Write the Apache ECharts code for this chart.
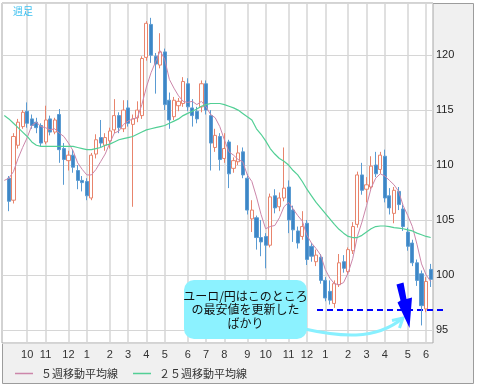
<!DOCTYPE html>
<html><head><meta charset="utf-8">
<script src="https://cdn.jsdelivr.net/npm/echarts@6/dist/echarts.min.js"></script>
<style>html,body{margin:0;padding:0;background:#fff}#c{width:477px;height:388px}</style>
</head><body><div id="c"></div>
<script>
const weeks = ['2010-08-30','2010-09-06','2010-09-13','2010-09-20','2010-09-27',
'2010-10-04','2010-10-11','2010-10-18','2010-10-25',
'2010-11-01','2010-11-08','2010-11-15','2010-11-22','2010-11-29',
'2010-12-06','2010-12-13','2010-12-20','2010-12-27',
'2011-01-03','2011-01-10','2011-01-17','2011-01-24','2011-01-31',
'2011-02-07','2011-02-14','2011-02-21','2011-02-28',
'2011-03-07','2011-03-14','2011-03-21','2011-03-28',
'2011-04-04','2011-04-11','2011-04-18','2011-04-25',
'2011-05-02','2011-05-09','2011-05-16','2011-05-23','2011-05-30',
'2011-06-06','2011-06-13','2011-06-20','2011-06-27',
'2011-07-04','2011-07-11','2011-07-18','2011-07-25',
'2011-08-01','2011-08-08','2011-08-15','2011-08-22','2011-08-29',
'2011-09-05','2011-09-12','2011-09-19','2011-09-26',
'2011-10-03','2011-10-10','2011-10-17','2011-10-24','2011-10-31',
'2011-11-07','2011-11-14','2011-11-21','2011-11-28',
'2011-12-05','2011-12-12','2011-12-19','2011-12-26',
'2012-01-02','2012-01-09','2012-01-16','2012-01-23','2012-01-30',
'2012-02-06','2012-02-13','2012-02-20','2012-02-27',
'2012-03-05','2012-03-12','2012-03-19','2012-03-26',
'2012-04-02','2012-04-09','2012-04-16','2012-04-23','2012-04-30',
'2012-05-07','2012-05-14','2012-05-21','2012-05-28',
'2012-06-04','2012-06-11'];

const openP = [null,
108.8,106.8,111.8,113.5,
114.9,114.2,113.9,113.6,
112.1,114.2,113.0,114.6,111.5,
110.4,110.9,109.5,108.6,
108.5,107.0,111.0,112.5,111.8,
112.2,113.2,114.5,113.3,
115.2,113.7,114.3,114.5,
119.8,122.8,119.9,119.1,
120.3,115.9,114.4,115.4,115.6,
117.4,115.2,114.9,115.3,
117.4,114.5,111.6,112.6,
110.6,112.1,109.7,110.3,111.2,
108.8,105.1,105.2,103.4,
103.5,102.7,107.2,106.2,107.0,
108.0,105.9,104.0,103.5,
104.7,102.6,101.2,101.6,
99.5,98.5,97.4,99.1,101.2,
100.3,102.2,104.6,109.1,
107.8,108.0,110.0,109.6,
110.8,107.2,105.6,107.6,106.0,
103.9,102.9,101.1,100.1,
96.9,100.5];

const closeP = [null,
106.7,112.6,113.9,114.8,
113.8,113.6,113.4,112.0,
114.1,113.0,114.1,111.4,110.5,
110.9,109.8,108.6,108.4,
107.2,110.9,112.3,112.0,112.5,
113.1,114.5,113.4,115.0,
113.8,114.2,115.0,119.7,
122.9,120.0,119.2,120.3,
115.5,114.1,115.9,115.8,117.6,
115.3,114.5,114.2,117.4,
115.0,112.0,112.7,110.5,
111.5,109.2,110.4,111.1,109.1,
105.9,105.9,103.4,103.0,
102.7,107.1,106.1,107.0,107.9,
105.0,104.1,102.9,104.4,
101.4,101.7,101.8,99.5,
97.9,97.7,99.2,101.1,100.6,
102.3,104.4,109.1,107.7,
108.2,109.9,109.2,110.9,
107.0,106.1,107.7,106.4,104.4,
102.6,101.1,99.5,97.2,
99.4,99.6];

const lowP = [null,
105.8,106.5,111.5,113.3,
113.4,113.3,112.9,111.7,
111.9,112.7,112.8,110.2,108.2,
109.5,109.3,107.8,107.6,
106.8,106.8,110.6,111.6,111.3,
111.5,112.9,112.9,113.0,
113.5,106.2,113.9,114.2,
119.5,119.3,116.5,118.8,
115.0,113.3,114.1,114.9,115.3,
114.9,113.5,113.8,114.8,
114.6,109.5,111.2,109.5,
110.2,107.9,109.3,110.0,108.8,
105.5,103.9,102.3,101.7,
100.6,102.5,105.6,105.8,106.7,
103.8,103.0,102.4,103.2,
100.9,101.2,100.8,99.2,
97.6,97.3,97.0,98.9,100.2,
100.0,101.9,104.3,107.3,
106.6,107.8,108.9,109.2,
106.6,105.5,104.7,105.9,104.0,
102.2,100.8,99.0,95.4,
96.6,98.9];

const highP = [null,
109.0,112.9,114.2,115.0,
115.7,114.6,114.3,113.8,
115.4,114.5,114.3,115.1,112.0,
111.3,111.4,110.0,109.0,
108.8,111.1,112.8,114.1,112.9,
113.4,116.0,114.8,115.9,
115.9,114.6,115.8,119.9,
123.1,123.4,120.2,122.0,
120.6,116.6,116.2,116.1,118.0,
117.9,116.0,115.3,117.7,
117.7,115.0,113.3,112.9,
112.9,112.3,110.7,111.8,111.6,
109.2,106.8,105.4,105.0,
103.8,107.4,107.8,107.5,111.6,
108.6,106.3,104.4,105.8,
105.0,102.9,102.3,101.9,
99.8,99.5,99.5,101.9,101.8,
102.5,104.8,109.4,110.2,
108.9,110.8,111.2,111.2,
111.4,107.9,108.0,108.0,106.4,
104.3,103.2,101.4,100.4,
99.8,101.0];

const ma5 = [108.6,
108.8,109.4,110.6,111.6,
112.5,113.6,113.9,113.5,
113.4,113.2,113.3,112.9,112.6,
112.0,111.3,110.2,109.6,
109.1,109.1,109.6,110.3,111.0,
112.0,112.9,113.1,113.7,
114.0,114.2,114.3,115.5,
117.1,118.4,119.4,120.4,
119.6,117.8,117.0,116.3,115.8,
115.7,115.8,115.5,115.8,
115.3,114.6,114.3,113.5,
112.3,111.2,110.9,110.5,110.3,
109.1,108.5,107.1,105.5,
104.2,104.4,104.5,105.2,106.2,
106.6,106.0,105.4,104.9,
103.6,102.9,102.4,101.8,
100.5,99.7,99.2,99.1,99.3,
100.2,101.5,103.5,104.8,
106.3,107.9,108.8,109.2,
109.0,108.6,108.2,107.6,106.3,
105.4,104.4,102.8,101.0,
100.0,99.4];

const ma25 = [114.5,
114.2,113.8,113.4,113.0,
112.6,112.1,111.8,111.7,
111.7,111.7,111.7,111.7,111.7,
111.7,111.7,111.6,111.5,
111.4,111.4,111.5,111.6,111.8,
111.9,112.1,112.3,112.4,
112.5,112.6,112.8,113.0,
113.2,113.3,113.4,113.5,
113.6,113.8,114.0,114.2,114.5,
114.7,114.9,115.1,115.35,
115.5,115.6,115.6,115.6,
115.5,115.35,115.2,115.0,114.7,
114.4,114.1,113.3,112.8,
112.2,111.5,111.0,110.6,110.35,
110.0,109.5,109.1,108.5,
107.8,107.2,106.6,106.1,
105.6,105.1,104.6,104.15,103.8,
103.5,103.4,103.4,103.6,
103.9,104.2,104.4,104.45,
104.45,104.4,104.3,104.25,104.2,
104.1,104.0,103.8,103.65,
103.5,103.4];

const yTicks = [95, 100, 105, 110, 115, 120];
const lowLine = 96.8;
const noteLines = ['ユーロ/円はこのところ', 'の最安値を更新した', 'ばかり'];
const legendNames = ['５週移動平均線', '２５週移動平均線'];
const periodLabel = '週足';

const chart = echarts.init(document.getElementById('c'), null, {renderer: 'canvas'});
const candleData = weeks.map((d, i) => openP[i] == null ? ['-', '-', '-', '-'] : [openP[i], closeP[i], lowP[i], highP[i]]);
const isMonthStart = (i) => i >= 2 && weeks[i].slice(5, 7) !== weeks[i - 1].slice(5, 7);
const numFont = 'Liberation Sans';
const jpFont = '"Noto Sans CJK JP"';
const pink = '#cc86aa', green = '#52cf95';

chart.setOption({
  animation: false,
  backgroundColor: '#fff',
  grid: {left: 2, right: 44, top: 3, bottom: 45, show: true, backgroundColor: '#fff',
    borderColor: '#a6a6a6', borderWidth: 1, containLabel: false, outerBoundsMode: 'none'},
  legend: {show: true, data: legendNames, icon: 'rect', left: 15, top: 368, itemWidth: 18, itemHeight: 1.5, itemGap: 15, padding: 0,
    textStyle: {fontSize: 11, color: '#333', fontFamily: jpFont, padding: [0, 0, 0, 3]}},
  xAxis: {type: 'category', data: weeks, boundaryGap: true,
    axisLine: {show: false},
    axisTick: {show: false, alignWithLabel: true, interval: (i) => isMonthStart(i)},
    axisLabel: {interval: (i) => isMonthStart(i), formatter: (v) => String(+v.slice(5, 7)),
      fontSize: 11, color: '#333', margin: 6, fontFamily: numFont},
    splitLine: {show: true, alignWithLabel: true, interval: (i) => isMonthStart(i),
      lineStyle: {color: '#d6d6d6', width: 1.5}}},
  yAxis: {type: 'value', position: 'right', min: 93.8, max: 124.75, splitNumber: 6,
    axisLine: {show: false}, axisTick: {show: false},
    axisLabel: {margin: 3, fontSize: 11, color: '#222', fontFamily: numFont, showMinLabel: false, showMaxLabel: false,
      formatter: (v) => yTicks.indexOf(Math.round(v * 100) / 100) >= 0 ? String(v) : ''},
    splitLine: {show: true, lineStyle: {color: '#d6d6d6', width: 1}}},
  series: [
    {type: 'candlestick', name: 'candle', data: candleData, barWidth: 3.6,
      itemStyle: {color: '#ffffff', color0: '#3d86c6', borderColor: '#e8846c', borderColor0: '#5a9bd2', borderWidth: 1}, z: 2},
    {type: 'line', name: legendNames[0], data: ma5, symbol: 'none', showSymbol: false,
      lineStyle: {color: pink, width: 1}, itemStyle: {color: pink}, z: 3},
    {type: 'line', name: legendNames[1], data: ma25, symbol: 'none', showSymbol: false,
      lineStyle: {color: green, width: 1.2}, itemStyle: {color: green}, z: 3}
  ]
});

const yLow = chart.convertToPixel({yAxisIndex: 0}, lowLine);
chart.setOption({
  graphic: [
    {type: 'rect', z: -10, silent: true, shape: {x: 2.5, y: 3.5, width: 471, height: 380},
      style: {fill: '#f0f0f0', stroke: '#9c9c9c', lineWidth: 1}},
    {type: 'text', z: 50, left: 13, top: 6, style: {text: periodLabel, fill: '#3cc0f0', font: '10px ' + jpFont}},
    {type: 'group', z: 60, children: [
      {type: 'bezierCurve', shape: {x1: 300, y1: 328, cpx1: 340, cpy1: 337, cpx2: 375, cpy2: 341, x2: 403, y2: 318},
        style: {stroke: '#88f0ff', lineWidth: 3, fill: null}},
      {type: 'polyline', shape: {points: [[392, 320.5], [403, 318], [399.5, 328]]},
        style: {stroke: '#88f0ff', lineWidth: 3, fill: null}},
      {type: 'rect', shape: {x: 184, y: 280, width: 123, height: 59, r: 10}, style: {fill: '#8cf2ff'}},
      {type: 'text', style: {text: noteLines.join('\n'), x: 245.5, y: 309.5, align: 'center', verticalAlign: 'middle',
        fill: '#111', font: '12px ' + jpFont, lineHeight: 13.5}},
      {type: 'line', shape: {x1: 317, y1: yLow, x2: 447, y2: yLow},
        style: {stroke: '#0000ff', lineWidth: 2, lineDash: [6, 4]}},
      {type: 'polygon', shape: {points: [[396.5, 284.5], [403.5, 282.5], [406.5, 299], [412, 297.5], [409.5, 328], [397.5, 302.5], [400.5, 300.5]]},
        style: {fill: '#0000ff'}}
    ]}
  ]
});
</script></body></html>
